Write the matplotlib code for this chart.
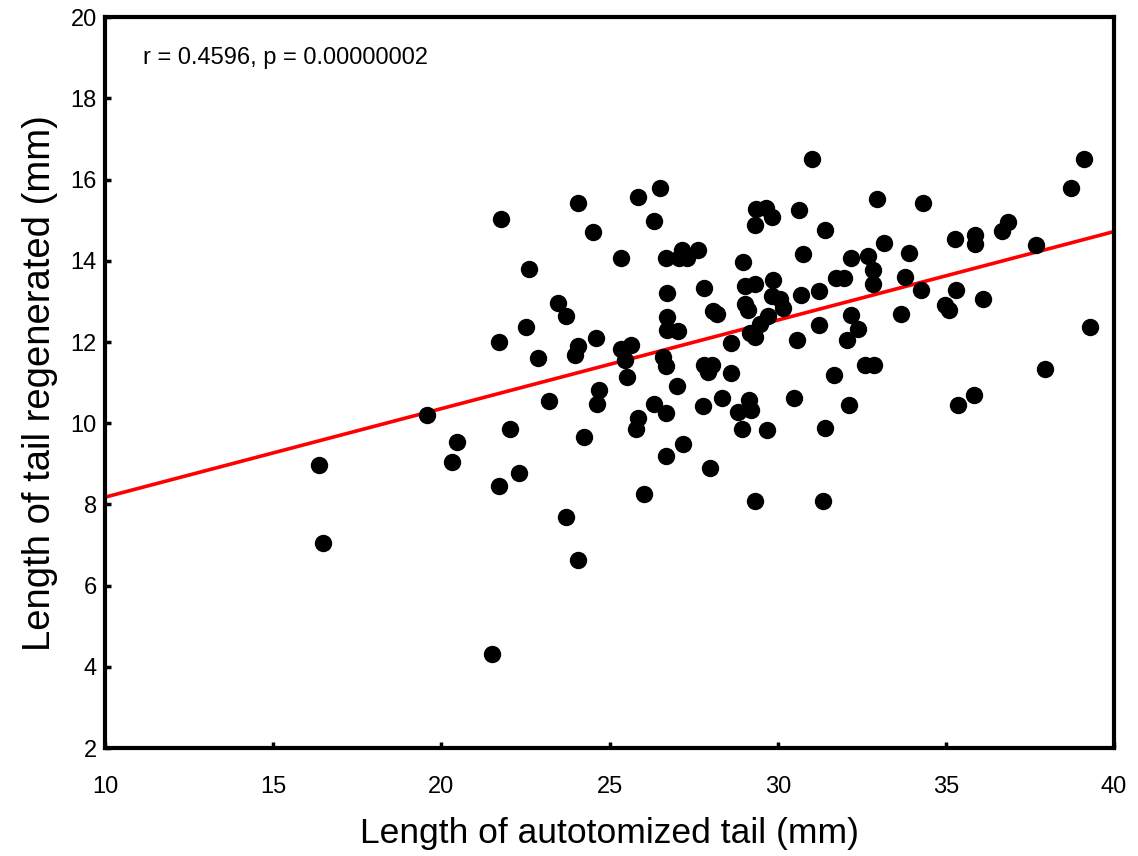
import numpy as np
import matplotlib
matplotlib.use("Agg")
import matplotlib.pyplot as plt

plt.rcParams['font.family'] = ['Liberation Sans', 'DejaVu Sans']

# autotomized tail length (mm) and regenerated length (mm)
tail_cut = [16.37, 16.47, 19.57, 20.33, 20.46, 21.77, 21.50, 21.72, 21.72, 22.04,
            22.32, 22.53, 22.59, 22.88, 23.19, 23.47, 23.70, 23.70, 24.06, 23.98,
            24.06, 24.06, 24.24, 24.52, 24.59, 24.69, 24.64, 25.34, 25.34, 25.63,
            25.46, 25.51, 25.84, 25.84, 25.79, 26.01, 26.33, 26.33, 26.50, 26.67,
            26.71, 26.72, 26.72, 27.02, 26.60, 26.68, 26.67, 26.68, 27.00, 27.15,
            27.29, 27.07, 27.64, 27.17, 27.81, 27.81, 28.04, 27.94, 27.77, 27.99,
            28.08, 28.19, 28.33, 28.60, 28.60, 28.98, 29.03, 29.33, 29.02, 29.11,
            28.83, 29.16, 29.20, 28.93, 29.31, 29.35, 29.66, 29.84, 29.31, 29.86,
            29.82, 30.07, 30.15, 29.71, 29.48, 29.18, 29.32, 29.69, 30.57, 30.49,
            30.69, 30.62, 30.76, 31.03, 31.24, 31.24, 31.39, 31.39, 31.36, 31.68,
            31.72, 31.97, 32.05, 32.13, 32.17, 32.17, 32.40, 32.60, 32.85, 32.67,
            32.83, 32.83, 32.95, 33.17, 33.66, 33.77, 33.89, 34.26, 34.33, 34.98,
            35.10, 35.27, 35.30, 35.37, 35.82, 35.87, 35.85, 36.09, 36.68, 36.86,
            37.68, 37.95, 38.72, 39.11, 39.27]
tail_regen = [8.96, 7.04, 10.20, 9.05, 9.55, 15.03, 4.31, 12.01, 8.45, 9.87,
              8.77, 12.37, 13.80, 11.61, 10.55, 12.97, 12.65, 7.68, 11.90, 11.68,
              15.43, 6.63, 9.65, 14.71, 12.11, 10.83, 10.47, 14.07, 11.84, 11.92,
              11.55, 11.15, 15.58, 10.12, 9.86, 8.27, 14.98, 10.47, 15.80, 14.07,
              13.20, 12.62, 12.29, 12.28, 11.64, 11.41, 10.24, 9.19, 10.91, 14.26,
              14.06, 14.07, 14.26, 9.50, 13.34, 11.43, 11.43, 11.27, 10.42, 8.91,
              12.76, 12.70, 10.61, 11.98, 11.24, 13.97, 13.38, 13.43, 12.93, 12.79,
              10.28, 10.57, 10.32, 9.87, 8.08, 15.27, 15.29, 15.09, 14.87, 13.52,
              13.13, 13.06, 12.83, 12.63, 12.45, 12.22, 12.12, 9.83, 12.06, 10.61,
              13.15, 15.26, 14.16, 16.50, 13.25, 12.43, 14.75, 9.88, 8.08, 11.20,
              13.58, 13.58, 12.05, 10.46, 14.07, 12.66, 12.33, 11.43, 11.43, 14.12,
              13.77, 13.43, 15.52, 14.43, 12.70, 13.61, 14.20, 13.28, 15.43, 12.91,
              12.79, 14.53, 13.28, 10.46, 10.69, 14.63, 14.41, 13.06, 14.74, 14.95,
              14.39, 11.33, 15.80, 16.50, 12.37]

# regression line as drawn in the figure
fit_slope = 0.218
fit_intercept = 6.0
stats_text = "r = 0.4596, p = 0.00000002"

x_ticks = [10, 15, 20, 25, 30, 35, 40]
y_ticks = [2, 4, 6, 8, 10, 12, 14, 16, 18, 20]

fig = plt.figure(figsize=(11.38, 8.56), dpi=100)
ax = fig.add_axes([0.0923, 0.126, 0.8867, 0.854])

ax.plot(tail_cut, tail_regen, 'o', color='black', markersize=11.5, zorder=3)

xx = np.array([10, 40])
ax.plot(xx, fit_slope * xx + fit_intercept, color='#ff0000', linewidth=2.6, zorder=2)

ax.set_xlim(10, 40)
ax.set_ylim(2, 20)
ax.set_xticks(x_ticks)
ax.set_yticks(y_ticks)
ax.tick_params(direction='in', length=4, width=2.5, labelsize=17)
ax.tick_params(axis='x', pad=20)
ax.tick_params(axis='y', pad=6)
for sp in ax.spines.values():
    sp.set_linewidth(3)

ax.text(11.13, 19.0, stats_text, fontsize=17, va='center', ha='left')

ax.set_xlabel("Length of autotomized tail (mm)", fontsize=25.5, labelpad=14)
ax.set_ylabel("Length of tail regenerated (mm)", fontsize=27.5, labelpad=9)

fig.savefig("out.png", dpi=100)
